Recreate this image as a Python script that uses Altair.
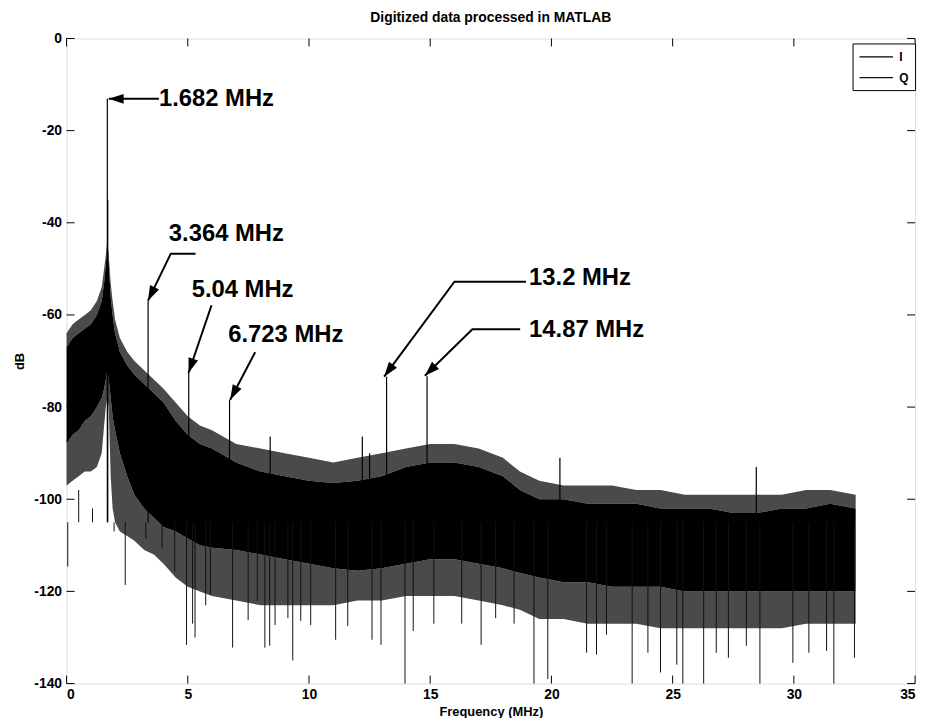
import math
import altair as alt
import pandas as pd

# ---------------- data ----------------
band_freq = [0, 0.25, 0.5, 0.75, 1.0, 1.25, 1.45, 1.55, 1.62, 1.68, 1.74, 1.82, 1.9, 2.0,
             2.2, 2.5, 2.8, 3.2, 3.6, 4.0, 4.5, 5.0, 5.5, 6.0, 7.0, 8.0, 9.0, 10.0, 11.0,
             12.0, 13.0, 14.0, 15.0, 16.0, 17.0, 18.0, 18.7, 19.5, 20.5, 21.5, 22.5, 23.5,
             24.5, 25.5, 26.5, 27.5, 28.5, 29.5, 30.5, 31.5, 32.55]
# tips of the comb above the dense band
comb_top = [-64, -62, -61, -60, -59, -57, -54, -50, -47, -44, -47, -53, -57, -61,
            -65, -68, -70, -72, -74, -76, -79, -82, -84, -85, -88, -89, -90, -91, -92,
            -91, -90, -89, -88, -88, -89, -91, -94, -96, -97, -97, -97, -98,
            -98, -99, -99, -99, -99, -99, -98, -98, -99]
# dense (solid) part of the noise floor
band_top = [-67, -65, -64, -63, -62, -60, -57, -53, -49, -46, -49, -56, -60, -64,
            -68, -71, -73, -75, -77, -79, -83, -86, -88, -89, -92, -94, -95, -96, -96.5,
            -96, -95, -93, -92, -92, -93, -95, -98, -100, -100, -101, -101, -101,
            -102, -102, -102, -103, -103, -102, -102, -101, -102]
band_bottom = [-88, -86, -85, -83, -82, -80, -78, -76, -74, -72, -74, -78, -82, -85,
               -90, -95, -99, -102, -104, -106, -107, -108.5, -110, -110.5, -111, -112, -113, -114, -115,
               -115.5, -115, -114, -113, -113, -114, -115, -116, -117, -118, -118, -119, -119,
               -119, -120, -120, -120, -120, -120, -120, -120, -120]
# tips of the comb below the dense band
fringe_bottom = [-97, -96, -95, -94, -94, -93, -90, -84, -80, -78, -80, -95, -102, -105,
                 -107, -108, -109, -111, -112, -114, -117, -119, -120, -121, -122, -123, -123, -123, -123,
                 -122, -122, -121, -121, -121, -122, -123, -124, -126, -126, -127, -127, -127,
                 -128, -128, -128, -128, -128, -128, -127, -127, -127]

# upward tones (MHz, dB)
peak_freq = [1.682, 1.70, 3.364, 5.04, 6.723, 8.4, 12.2, 12.5, 13.2, 14.87, 20.35, 28.45]
peak_db = [-13.1, -35.0, -56.9, -72.6, -78.4, -86.4, -86.4, -90.0, -73.4, -73.3, -91.0, -93.0]

# downward dips (MHz, dB)
dip_freq = [0.05, 0.5, 1.07, 1.96, 2.42, 3.27, 3.94, 4.46, 4.95, 5.2, 5.3, 5.74, 5.93,
            6.85, 7.49, 7.87, 8.18, 8.38, 8.6, 9.13, 9.33, 9.66, 10.07, 11.1, 11.6, 12.6,
            12.97, 13.96, 14.3, 15.15, 16.3, 17.1, 17.7, 18.46, 19.28, 19.85, 21.45, 21.86,
            22.27, 23.33, 23.98, 24.5, 25.17, 25.42, 26.28, 26.8, 27.3, 28.04, 28.6, 29.96,
            30.62, 31.35, 31.65, 32.5]
dip_db = [-114.6, -98, -102, -107, -118.6, -108.5, -110.7, -115.7, -131.6, -127, -130, -123, -120.8,
          -132.2, -126.2, -122, -132.2, -131.8, -127.3, -125.8, -135, -126.4, -127.3, -130.5, -127.5, -130.5,
          -131.6, -140, -128.6, -127, -127, -131.6, -125.8, -127, -140, -139, -133.3, -133.7,
          -129.4, -140, -133.3, -137.6, -135.9, -140, -140, -133.3, -134.4, -131.8, -140, -135.5,
          -133.3, -132.9, -140, -134.4]

# annotations: label, label left edge, arrow tail, elbow, tip (MHz, dB)
ann_label = ["1.682 MHz", "3.364 MHz", "5.04 MHz", "6.723 MHz", "13.2 MHz", "14.87 MHz"]
ann_text_f = [3.81, 4.22, 5.16, 6.67, 19.08, 19.08]
ann_text_db = [-13.1, -42.4, -54.7, -64.4, -51.9, -63.3]
ann_tail_f = [3.81, 5.32, 5.98, 7.78, 18.95, 18.71]
ann_tail_db = [-13.1, -46.7, -57.9, -68.1, -52.8, -63.1]
ann_elbow_f = [3.81, 4.30, 5.98, 7.78, 16.0, 16.74]
ann_elbow_db = [-13.1, -46.7, -57.9, -68.1, -52.8, -63.1]
ann_tip_f = [1.74, 3.36, 5.03, 6.75, 13.1, 14.78]
ann_tip_db = [-13.1, -56.9, -72.6, -78.4, -73.4, -73.2]

series_names = ["I", "Q"]
x_ticks = [0, 5, 10, 15, 20, 25, 30, 35]
y_ticks = [-140, -120, -100, -80, -60, -40, -20, 0]

# ---------------- chart ----------------
W, H = 855, 650
XMIN, XMAX, YMIN, YMAX = 0, 35, -140, 0
ppm = W / (XMAX - XMIN)
ppd = H / (YMAX - YMIN)
FONT = "Liberation Sans"

xs = alt.Scale(domain=[XMIN, XMAX], nice=False, zero=False)
ys = alt.Scale(domain=[YMIN, YMAX], nice=False, zero=False)
common_axis = dict(grid=False, domain=False, ticks=False, labelFontSize=14, titleFontSize=13,
                   labelFontWeight="bold", titleFontWeight="bold", labelFont=FONT, titleFont=FONT,
                   labelColor="black", titleColor="black", labelExpr="toString(datum.value)")
xaxis = alt.Axis(values=x_ticks, title="Frequency (MHz)", labelPadding=4, titlePadding=4, **common_axis)
yaxis = alt.Axis(values=y_ticks, title="dB", labelPadding=5, titlePadding=7, **common_axis)


def X(field):
    return alt.X(field, type="quantitative", scale=xs, axis=xaxis)


def Y(field):
    return alt.Y(field, type="quantitative", scale=ys, axis=yaxis)


band_df = pd.DataFrame({"f": band_freq, "comb": comb_top, "top": band_top, "bot": band_bottom,
                        "fr": fringe_bottom, "series": series_names[0]})
peak_df = pd.DataFrame({"f": peak_freq, "db": peak_db})
dip_df = pd.DataFrame({"f": dip_freq, "db": dip_db, "series": series_names[1]})

color_scale = alt.Scale(domain=series_names, range=["#000000", "#111111"])
legend = alt.Legend(title=None, orient="none", legendX=792, legendY=5,
                    symbolType="M-1,0H4.2", symbolSize=169, symbolStrokeWidth=1.2,
                    symbolStrokeColor="black", symbolFillColor="transparent",
                    labelFont=FONT, labelFontSize=12, labelFontWeight="bold", labelColor="black",
                    strokeColor="black", fillColor="white", padding=6, rowPadding=7, labelOffset=26)
COLOR = alt.Color("series:N", scale=color_scale, legend=legend)

comb = alt.Chart(band_df).mark_area(color="#4a4a4a", interpolate="linear").encode(
    x=X("f"), y=Y("comb"), y2="top")
fringe = alt.Chart(band_df).mark_area(color="#4a4a4a", interpolate="linear").encode(
    x=X("f"), y=Y("fr"), y2="bot")
band = alt.Chart(band_df).mark_area(interpolate="linear").encode(
    x=X("f"), y=Y("top"), y2="bot", color=COLOR)
dips = alt.Chart(dip_df).mark_rule(strokeWidth=1).encode(
    x=X("f"), y=Y("db"), y2=alt.datum(-105), color=COLOR)
peaks = alt.Chart(peak_df).mark_rule(color="black", strokeWidth=1.2).encode(
    x=X("f"), y=Y("db"), y2=alt.datum(-105))

xt = pd.DataFrame({"f": x_ticks})
yt = pd.DataFrame({"db": y_ticks})
tick_b = alt.Chart(xt).mark_rule(color="black").encode(x=X("f"), y=alt.value(H), y2=alt.value(H - 8))
tick_t = alt.Chart(xt).mark_rule(color="black").encode(x=X("f"), y=alt.value(0), y2=alt.value(8))
tick_l = alt.Chart(yt).mark_rule(color="black").encode(y=Y("db"), x=alt.value(0), x2=alt.value(8))
tick_r = alt.Chart(yt).mark_rule(color="black").encode(y=Y("db"), x=alt.value(W), x2=alt.value(W - 8))

# arrow paths and heads
rows, heads = [], []
HEAD = 10
for i, lab in enumerate(ann_label):
    pts = [(ann_tail_f[i], ann_tail_db[i]), (ann_elbow_f[i], ann_elbow_db[i]), (ann_tip_f[i], ann_tip_db[i])]
    for k, (f, d) in enumerate(pts):
        rows.append({"id": i, "k": k, "f": f, "db": d})
    dxp = (ann_tip_f[i] - ann_elbow_f[i]) * ppm
    dyp = -(ann_tip_db[i] - ann_elbow_db[i]) * ppd
    L = math.hypot(dxp, dyp)
    ux, uy = dxp / L, dyp / L
    ang = math.degrees(math.atan2(ux, -uy)) % 360
    heads.append({"f": ann_tip_f[i] - HEAD * ux / ppm, "db": ann_tip_db[i] + HEAD * uy / ppd, "ang": ang})
arrow_df = pd.DataFrame(rows)
head_df = pd.DataFrame(heads)
text_df = pd.DataFrame({"label": ann_label, "f": ann_text_f, "db": ann_text_db})

arrows = alt.Chart(arrow_df).mark_line(color="black", strokeWidth=2).encode(
    x=X("f"), y=Y("db"), detail="id:N", order="k:Q")
arrow_heads = alt.Chart(head_df).mark_point(
    shape="M0,-1L0.5,0.5L-0.5,0.5Z", filled=True, color="black", size=400, opacity=1).encode(
    x=X("f"), y=Y("db"), angle=alt.Angle("ang:Q", scale=None))
texts = alt.Chart(text_df).mark_text(font=FONT, fontSize=24, fontWeight="bold", color="black",
                                     align="left", baseline="middle").encode(
    x=X("f"), y=Y("db"), text="label:N")

chart = alt.layer(comb, fringe, band, dips, peaks, tick_b, tick_t, tick_l, tick_r,
                  arrows, arrow_heads, texts).properties(
    width=W, height=H,
    title=alt.Title("Digitized data processed in MATLAB", font=FONT, fontSize=14,
                    fontWeight="bold", color="black", offset=7, anchor="middle"),
    autosize=alt.AutoSizeParams(type="none"),
    padding={"left": 59, "top": 28, "right": 9, "bottom": 32},
).configure_view(stroke="black", strokeWidth=1.2).configure(background="white")

chart.save("out.html", embed_options={"renderer": "svg", "actions": False})
